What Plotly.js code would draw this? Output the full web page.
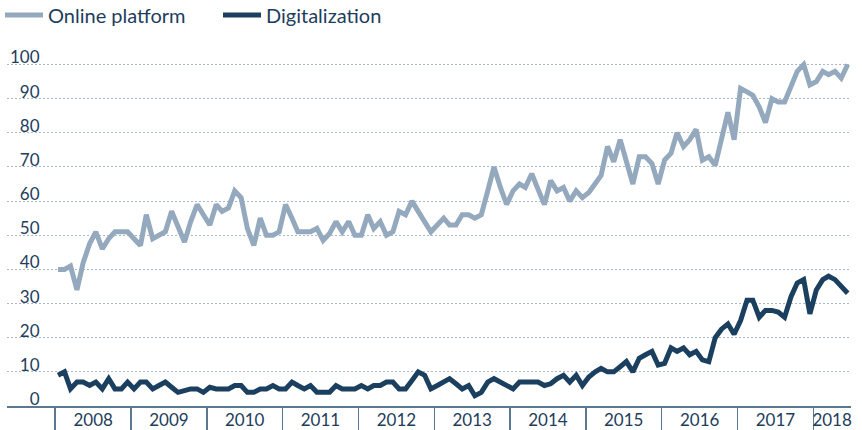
<!DOCTYPE html>
<html>
<head>
<meta charset="utf-8">
<script src="https://cdn.plot.ly/plotly-3.0.1.min.js"></script>
<style>
  html, body { margin: 0; padding: 0; background: #ffffff; }
  #chart { width: 862px; height: 430px; }
</style>
</head>
<body>
<div id="chart"></div>
<script>
// ---- Data (monthly, Jan 2008 – Jun 2018) ----
const startYear = 2008;
const seriesNames = ["Online platform", "Digitalization"];

const onlinePlatform = [
  40, 40, 41, 34, 42, 47.5, 51, 46, 49, 51, 51, 51,
  49, 47, 56, 49, 50, 51, 57, 52, 48, 54, 59, 56,
  53, 59, 57, 58, 63, 61, 52, 47, 55, 50, 50, 51,
  59, 55, 51, 51, 51, 52, 48.5, 50.5, 54, 51, 54, 50,
  50, 56, 52, 54, 50, 51, 57, 56, 60, 57, 54, 51,
  53, 55, 53, 53, 56, 56, 55, 56, 63, 70, 64, 59,
  63, 65, 64, 68, 63.5, 59, 66, 63, 64, 60, 63, 61,
  62.5, 65, 67.5, 76, 71.5, 78, 71.5, 65, 73, 73, 71, 65,
  72, 74, 80, 76, 78, 81, 72, 73, 70.5, 78, 86, 78,
  93, 92, 91, 87.5, 83, 90, 89, 89, 94, 98, 100, 94,
  95, 98, 97, 98, 96, 100
];

const digitalization = [
  9, 10, 5, 7, 7, 6, 7, 5, 8, 5, 5, 7,
  5, 7, 7, 5, 6, 7, 5.5, 4, 4.5, 5, 5, 4,
  5.5, 5, 5, 5, 6, 6, 4, 4, 5, 5, 6, 5,
  5, 7, 6, 5, 6, 4, 4, 4, 6, 5, 5, 5,
  6, 5, 6, 6, 7, 7, 5, 5, 7.5, 10, 9, 5,
  6, 7, 8, 6.5, 5, 6, 3, 4, 7, 8, 7, 6,
  5, 7, 7, 7, 7, 6, 6.5, 8, 9, 7, 9, 6,
  8.5, 10, 11, 10, 10, 11.5, 13, 10, 14, 15, 16, 12,
  12.5, 17, 16, 17, 15, 16, 13.5, 13, 20, 22.5, 24, 21,
  25, 31, 31, 26, 28, 28, 27.5, 26, 32, 36, 37, 27,
  34, 37, 38, 37, 35, 33
];

const yearLabels = ["2008","2009","2010","2011","2012","2013","2014","2015","2016","2017","2018"];
const yTicks = [0, 10, 20, 30, 40, 50, 60, 70, 80, 90, 100];

// month dates (mid-month) for each value
function pad(n) { return (n < 10 ? "0" : "") + n; }
const months = onlinePlatform.map(function (_, i) {
  const y = startYear + Math.floor(i / 12);
  const m = (i % 12) + 1;
  return y + "-" + pad(m) + "-15";
});

// year boundaries (tick marks) and label positions (period centres)
const yearStarts = yearLabels.map(function (y) { return y + "-01-01"; });
const lastDate = "2018-07-01";
const labelPos = yearLabels.map(function (y, i) {
  const a = new Date(y + "-01-01T00:00:00Z").getTime();
  const b = (i < yearLabels.length - 1)
    ? new Date(yearLabels[i + 1] + "-01-01T00:00:00Z").getTime()
    : new Date(lastDate + "T00:00:00Z").getTime();
  return new Date((a + b) / 2).toISOString().slice(0, 10);
});

const textColor = "#1e3d5c";
const axisColor = "#5b7892";
const fontFam = "Lato, 'Open Sans', sans-serif";

const traces = [
  {
    x: months, y: onlinePlatform, name: seriesNames[0],
    type: "scatter", mode: "lines",
    line: { color: "#94a9bd", width: 5 }
  },
  {
    x: months, y: digitalization, name: seriesNames[1],
    type: "scatter", mode: "lines", yaxis: "y2",
    line: { color: "#1b3f5f", width: 5 }
  }
];

const layout = {
  width: 862, height: 430,
  margin: { l: 7, r: 11, t: 44, b: 24 },
  paper_bgcolor: "#ffffff",
  plot_bgcolor: "#ffffff",
  font: { family: fontFam, color: textColor, size: 17 },
  showlegend: true,
  legend: {
    orientation: "h",
    xref: "container", yref: "container",
    x: 0, y: 0.965, xanchor: "left", yanchor: "middle",
    font: { family: fontFam, size: 20, color: textColor },
    itemwidth: 38,
    entrywidth: 165, entrywidthmode: "pixels",
    bgcolor: "rgba(0,0,0,0)"
  },
  xaxis: {
    type: "date",
    range: ["2007-05-14", lastDate],
    tickmode: "array",
    tickvals: labelPos,
    ticktext: yearLabels,
    ticks: "",
    showgrid: false,
    zeroline: false,
    showline: true,
    linecolor: axisColor,
    linewidth: 1.5,
    tickfont: { family: fontFam, size: 17, color: textColor },
    ticklabelstandoff: -2,
    minor: {
      tickmode: "array",
      tickvals: yearStarts,
      ticks: "outside",
      ticklen: 24,
      tickwidth: 1.5,
      tickcolor: axisColor,
      showgrid: false
    },
    fixedrange: true
  },
  yaxis: {
    range: [0, 106],
    tickmode: "array",
    tickvals: yTicks,
    showticklabels: false,
    ticks: "",
    showgrid: true,
    gridcolor: "#a9b9c9",
    gridwidth: 1,
    griddash: "2px,2px",
    zeroline: false,
    showline: false,
    fixedrange: true
  },
  yaxis2: {
    overlaying: "y",
    anchor: "free",
    side: "left",
    position: 0.0386,
    range: [0, 106],
    tickmode: "array",
    tickvals: yTicks,
    ticktext: yTicks.map(String),
    ticks: "",
    showgrid: false,
    zeroline: false,
    showline: false,
    ticklabelshift: -7,
    ticklabelstandoff: 0,
    tickfont: { family: fontFam, size: 17, color: textColor },
    fixedrange: true
  },
  hovermode: false
};

Plotly.newPlot("chart", traces, layout, { displayModeBar: false, staticPlot: true });
</script>
</body>
</html>
